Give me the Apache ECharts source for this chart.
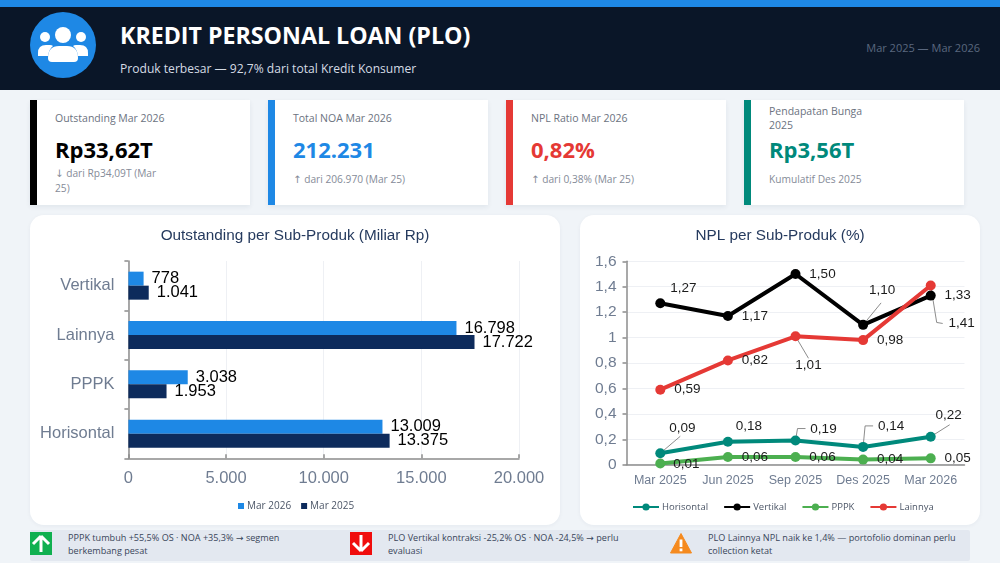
<!DOCTYPE html>
<html lang="id">
<head>
<meta charset="utf-8">
<title>Kredit Personal Loan (PLO)</title>
<script src="https://cdn.jsdelivr.net/npm/echarts@6/dist/echarts.min.js"></script>
<style>
  html, body { margin: 0; padding: 0; }
  body { width: 1000px; height: 563px; position: relative; overflow: hidden; background: #f0f4f8; font-family: "Open Sans", "Noto Sans", sans-serif; }
  .abs { position: absolute; white-space: nowrap; }
  .arrow { font-family: "DejaVu Sans", sans-serif; }
  #topbar { left: 0; top: 0; width: 1000px; height: 7px; background: #1e88e5; }
  #header { left: 0; top: 7px; width: 1000px; height: 83px; background: #0a1628; }
  #avatar { left: 30px; top: 12px; width: 66px; height: 66px; border-radius: 50%; background: #1e88e5; }
  #title { left: 120px; top: 17px; font-size: 23.2px; line-height: 36px; font-weight: 700; color: #fff; }
  #subtitle { left: 120px; top: 60px; font-size: 12.1px; line-height: 18px; color: #d5dbe4; }
  #period { right: 20px; top: 39px; font-size: 11px; line-height: 18px; color: #5a687f; }
  .kpi { position: absolute; top: 100px; width: 213px; height: 105px; background: #fff; border-left: 7px solid; box-shadow: 0 2px 5px rgba(20,40,70,.07); }
  .kpi .lbl, .kpi .val, .kpi .sub { position: absolute; left: 18px; white-space: nowrap; }
  .kpi .lbl { font-size: 10.5px; line-height: 14px; color: #6b7280; top: 11px; }
  .kpi .val { font-size: 22px; line-height: 30px; font-weight: 700; top: 34px; }
  .kpi .sub { font-size: 10.2px; line-height: 14px; color: #858b98; top: 72px; }
  .panel { position: absolute; top: 215px; height: 310px; background: #fff; border-radius: 14px; box-shadow: 0 1px 4px rgba(20,40,70,.05); }
  #strip { left: 30px; top: 530px; width: 940px; height: 31px; background: #e3e8f0; border-radius: 2px; }
  .note { position: absolute; top: 532px; font-size: 9.1px; line-height: 12.5px; color: #39465a; white-space: nowrap; }
  .ico { position: absolute; top: 532px; }
</style>
</head>
<body>
<div class="abs" id="topbar"></div>
<div class="abs" id="header"></div>
<div class="abs" id="avatar">
  <svg width="66" height="66" viewBox="0 0 66 66">
    <g fill="#fff">
      <circle cx="15" cy="25" r="5"/>
      <circle cx="51" cy="25" r="5"/>
      <path d="M8 41 q0 -8 8 -8 h4 q2 0 3 1 q-4 3 -5 10 h-10 z"/>
      <path d="M58 41 q0 -8 -8 -8 h-4 q-2 0 -3 1 q4 3 5 10 h10 z"/>
      <circle cx="33" cy="23" r="8"/>
      <path d="M18 46 q0 -12 11 -12 h8 q11 0 11 12 q0 4 -4 4 h-22 q-4 0 -4 -4 z"/>
    </g>
  </svg>
</div>
<div class="abs" id="title">KREDIT PERSONAL LOAN (PLO)</div>
<div class="abs" id="subtitle">Produk terbesar — 92,7% dari total Kredit Konsumer</div>
<div class="abs" id="period">Mar 2025 — Mar 2026</div>

<div class="kpi" style="left:30px;border-color:#000">
  <div class="lbl">Outstanding Mar 2026</div>
  <div class="val" style="color:#000">Rp33,62T</div>
  <div class="sub" style="top:66px"><span class="arrow">↓</span> dari Rp34,09T (Mar<br>25)</div>
</div>
<div class="kpi" style="left:268px;border-color:#1e88e5">
  <div class="lbl">Total NOA Mar 2026</div>
  <div class="val" style="color:#1e88e5">212.231</div>
  <div class="sub"><span class="arrow">↑</span> dari 206.970 (Mar 25)</div>
</div>
<div class="kpi" style="left:506px;border-color:#e53935">
  <div class="lbl">NPL Ratio Mar 2026</div>
  <div class="val" style="color:#e53935">0,82%</div>
  <div class="sub"><span class="arrow">↑</span> dari 0,38% (Mar 25)</div>
</div>
<div class="kpi" style="left:744px;border-color:#00897b">
  <div class="lbl" style="top:4px">Pendapatan Bunga<br>2025</div>
  <div class="val" style="color:#00897b">Rp3,56T</div>
  <div class="sub">Kumulatif Des 2025</div>
</div>

<div class="panel" id="barPanel" style="left:30px;width:530px"></div>
<div class="panel" id="linePanel" style="left:580px;width:400px"></div>

<div class="abs" id="strip"></div>
<svg class="ico" style="left:30px" width="22" height="23" viewBox="0 0 22 23">
  <rect width="22" height="23" fill="#10b050"/>
  <path d="M11 4 L19 12 M11 4 L3 12 M11 4 V20" stroke="#fff" stroke-width="3" fill="none"/>
</svg>
<div class="note" style="left:68px">PPPK tumbuh +55,5% OS · NOA +35,3% <span class="arrow">→</span> segmen<br>berkembang pesat</div>
<svg class="ico" style="left:350px" width="22" height="23" viewBox="0 0 22 23">
  <rect width="22" height="23" fill="#f00d0d"/>
  <path d="M11 19 L19 11 M11 19 L3 11 M11 19 V3" stroke="#fff" stroke-width="3" fill="none"/>
</svg>
<div class="note" style="left:388px">PLO Vertikal kontraksi -25,2% OS · NOA -24,5% <span class="arrow">→</span> perlu<br>evaluasi</div>
<svg class="ico" style="left:670px" width="22" height="23" viewBox="0 0 22 23">
  <path d="M11 1.5 L21.5 21 H0.5 Z" fill="#f58a1f" stroke="#f58a1f" stroke-width="1" stroke-linejoin="round"/>
  <rect x="9.6" y="7.5" width="2.8" height="7.5" fill="#fff"/>
  <rect x="9.6" y="16.5" width="2.8" height="2.8" fill="#fff"/>
</svg>
<div class="note" style="left:708px">PLO Lainnya NPL naik ke 1,4% — portofolio dominan perlu<br>collection ketat</div>

<script>
// Outstanding per sub-product, billions of rupiah
const subProducts = ['Vertikal', 'Lainnya', 'PPPK', 'Horisontal'];
const outstandingMar2026 = [778, 16798, 3038, 13009];
const outstandingMar2025 = [1041, 17722, 1953, 13375];

// NPL per sub-product, percent
const quarters = ['Mar 2025', 'Jun 2025', 'Sep 2025', 'Des 2025', 'Mar 2026'];
const nplHorisontal = [0.09, 0.18, 0.19, 0.14, 0.22];
const nplVertikal = [1.27, 1.17, 1.50, 1.10, 1.33];
const nplPPPK = [0.01, 0.06, 0.06, 0.04, 0.05];
const nplLainnya = [0.59, 0.82, 1.01, 0.98, 1.41];

const ARIAL = '"Liberation Sans", Arial, sans-serif';
const UI_FONT = '"Open Sans", "Noto Sans", sans-serif';
const AXIS_GREY = '#8c8c8c';
const TICK_TEXT = '#6f7c91';
const TITLE_NAVY = '#253a5e';

const thousands = v => String(v).replace(/\B(?=(\d{3})+(?!\d))/g, '.');
const decimal = v => String(v).replace('.', ',');
const twoDecimals = v => v.toFixed(2).replace('.', ',');

const barChart = echarts.init(document.getElementById('barPanel'));
const barLabel = {
  show: true, position: 'right', distance: 8, color: '#000',
  fontFamily: ARIAL, fontSize: 16.5, lineHeight: 16,
  formatter: p => thousands(p.value)
};
barChart.setOption({
  animation: false,
  title: {
    text: 'Outstanding per Sub-Produk (Miliar Rp)', left: 'center', top: 8,
    textStyle: { fontFamily: ARIAL, fontSize: 15.3, fontWeight: 'normal', color: TITLE_NAVY }
  },
  legend: {
    bottom: 9, left: 203, itemWidth: 6, itemHeight: 6, itemGap: 10,
    icon: 'rect', data: ['Mar 2026', 'Mar 2025'],
    textStyle: { fontFamily: UI_FONT, fontSize: 10, color: '#4c5667', padding: [0, 0, 0, -2] }
  },
  grid: { left: 98.4, right: 41, top: 46, height: 197.3 },
  xAxis: {
    type: 'value', min: 0, max: 20000, interval: 5000,
    axisLine: { show: true, lineStyle: { color: AXIS_GREY, width: 1.5 } },
    axisTick: { show: true, length: 4, inside: true, lineStyle: { color: AXIS_GREY, width: 1.5 } },
    splitLine: { show: true, lineStyle: { color: '#eef0f4', width: 1 } },
    axisLabel: { fontFamily: ARIAL, fontSize: 16.5, color: TICK_TEXT, margin: 12, formatter: thousands }
  },
  yAxis: {
    type: 'category', inverse: true, data: subProducts,
    axisLine: { show: true, lineStyle: { color: AXIS_GREY, width: 1.5 } },
    axisTick: { show: true, length: 4, lineStyle: { color: AXIS_GREY, width: 1.5 } },
    axisLabel: { fontFamily: ARIAL, fontSize: 16.5, color: TICK_TEXT, margin: 14 }
  },
  series: [
    { name: 'Mar 2026', type: 'bar', data: outstandingMar2026, barWidth: 14, barGap: 0, itemStyle: { color: '#1e88e5' }, label: barLabel },
    { name: 'Mar 2025', type: 'bar', data: outstandingMar2025, barWidth: 14, barGap: 0, itemStyle: { color: '#0d2b5c' }, label: barLabel }
  ]
});

// Label offsets from each point, as [dx, dy]
const offsetsHorisontal = [[22, -25], [21, -16], [28, -11], [28, -21], [18, -21]];
const offsetsVertikal = [[23, -15], [27, 0], [27, 0], [19, -35], [27, 0]];
const offsetsPPPK = [[26, 1], [27, 0], [27, 0], [27, 0], [27, 0]];
const offsetsLainnya = [[27, 0], [27, 0], [13, 29], [27, 0], [31, 38]];

// Leader line waypoints relative to each point; null means the label has no leader
const leadersHorisontal = [[[20, -17]], null, [[2, -12], [10, -12]], [[2, -21], [10, -21]], [[19, -12]]];
const leadersVertikal = [null, null, null, [[18, -22]], null];
const leadersPPPK = [null, null, null, null, null];
const leadersLainnya = [null, null, [[13, 22]], null, [[6, 37], [12, 38]]];

function nplSeries(name, values, offsets, color) {
  return {
    name, type: 'line', symbol: 'circle', symbolSize: 10, z: 3,
    lineStyle: { color, width: 4 },
    itemStyle: { color },
    data: values,
    label: {
      show: true, position: 'inside', align: 'center', verticalAlign: 'middle',
      fontFamily: ARIAL, fontSize: 13.5, color: '#1c1c1c',
      formatter: p => twoDecimals(p.value)
    },
    labelLayout: p => ({ dx: offsets[p.dataIndex][0], dy: offsets[p.dataIndex][1] })
  };
}

// One thin polyline per labelled point that needs a leader, anchored through the axes
const leaderRows = [
  [nplHorisontal, leadersHorisontal],
  [nplVertikal, leadersVertikal],
  [nplLainnya, leadersLainnya]
].flatMap(([values, leaders]) =>
  values.map((value, i) => ({ i, value, way: leaders[i] })).filter(row => row.way)
);

const leaderSeries = {
  type: 'custom', silent: true, z: 2, clip: false,
  data: leaderRows.map(row => [row.i, row.value]),
  renderItem: (params, api) => {
    const [x, y] = api.coord([api.value(0), api.value(1)]);
    const way = leaderRows[params.dataIndex].way;
    return {
      type: 'polyline',
      shape: { points: [[x, y], ...way.map(([dx, dy]) => [x + dx, y + dy])] },
      style: { stroke: '#6e6e6e', lineWidth: 0.8, fill: null }
    };
  }
};

const lineChart = echarts.init(document.getElementById('linePanel'));
lineChart.setOption({
  animation: false,
  title: {
    text: 'NPL per Sub-Produk (%)', left: 'center', top: 8,
    textStyle: { fontFamily: ARIAL, fontSize: 15.3, fontWeight: 'normal', color: TITLE_NAVY }
  },
  legend: {
    bottom: 8, left: 47, itemWidth: 26, itemHeight: 9, itemGap: 15,
    data: ['Horisontal', 'Vertikal', 'PPPK', 'Lainnya'],
    textStyle: { fontFamily: UI_FONT, fontSize: 9.5, color: '#4c5667', padding: [0, 0, 0, -2] }
  },
  grid: { left: 46.5, right: 15.5, top: 46.3, height: 203.4 },
  xAxis: {
    type: 'category', data: quarters,
    axisLine: { show: true, lineStyle: { color: AXIS_GREY, width: 1.5 } },
    axisTick: { show: false },
    axisLabel: { interval: 0, fontFamily: ARIAL, fontSize: 12.5, color: TICK_TEXT, margin: 9 }
  },
  yAxis: {
    type: 'value', min: 0, max: 1.6, interval: 0.2,
    axisLine: { show: true, lineStyle: { color: AXIS_GREY, width: 1.5 } },
    axisTick: { show: true, length: 4, lineStyle: { color: AXIS_GREY, width: 1.5 } },
    splitLine: { show: true, lineStyle: { color: '#eef0f4', width: 1 } },
    axisLabel: { fontFamily: ARIAL, fontSize: 15.5, color: TICK_TEXT, margin: 10, formatter: decimal }
  },
  series: [
    leaderSeries,
    nplSeries('Horisontal', nplHorisontal, offsetsHorisontal, '#00897b'),
    nplSeries('Vertikal', nplVertikal, offsetsVertikal, '#000000'),
    nplSeries('PPPK', nplPPPK, offsetsPPPK, '#4caf50'),
    nplSeries('Lainnya', nplLainnya, offsetsLainnya, '#e53935')
  ]
});
</script>
</body>
</html>
